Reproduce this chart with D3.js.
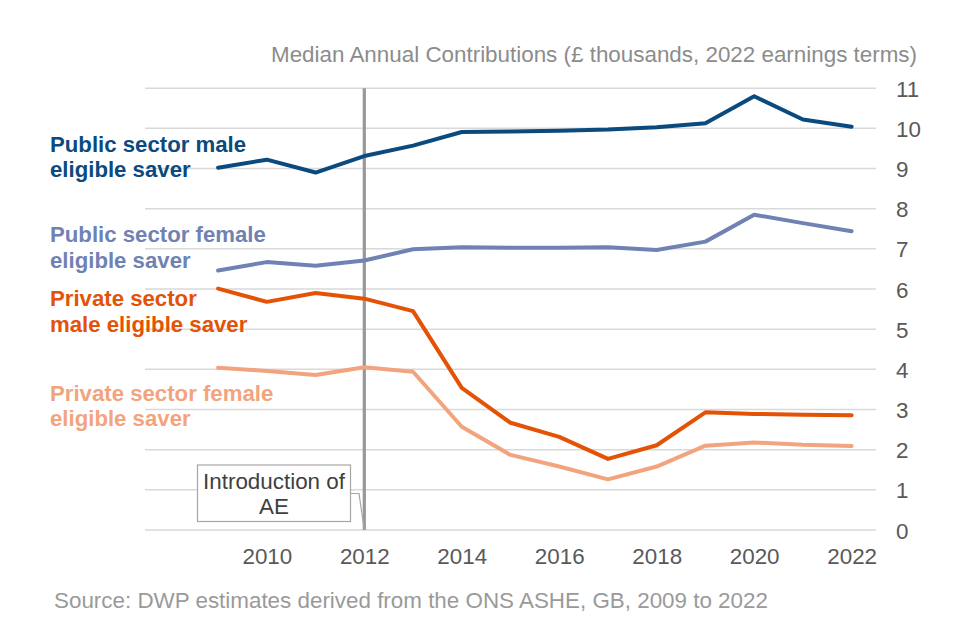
<!DOCTYPE html>
<html>
<head>
<meta charset="utf-8">
<script src="https://cdn.jsdelivr.net/npm/d3@7"></script>
<style>
  html, body { margin: 0; padding: 0; background: #fff; }
  svg { display: block; font-family: "Liberation Sans", Arial, sans-serif; }
</style>
</head>
<body>
<svg id="chart" width="960" height="640"></svg>
<script>
const years = [2009, 2010, 2011, 2012, 2013, 2014, 2015, 2016, 2017, 2018, 2019, 2020, 2021, 2022];
const publicMale    = [9.02, 9.22, 8.90, 9.31, 9.57, 9.91, 9.92, 9.94, 9.97, 10.03, 10.13, 10.80, 10.22, 10.04];
const publicFemale  = [6.46, 6.67, 6.58, 6.71, 6.99, 7.04, 7.03, 7.03, 7.04, 6.97, 7.18, 7.85, 7.64, 7.44];
const privateMale   = [6.01, 5.68, 5.90, 5.76, 5.45, 3.54, 2.67, 2.32, 1.77, 2.11, 2.93, 2.89, 2.87, 2.86];
const privateFemale = [4.04, 3.96, 3.86, 4.05, 3.94, 2.57, 1.87, 1.58, 1.26, 1.58, 2.10, 2.18, 2.12, 2.09];
const xTicks = [2010, 2012, 2014, 2016, 2018, 2020, 2022];
const yTicks = [0, 1, 2, 3, 4, 5, 6, 7, 8, 9, 10, 11];
const seriesNames = [
  ["Public sector male", "eligible saver"],
  ["Public sector female", "eligible saver"],
  ["Private sector", "male eligible saver"],
  ["Private sector female", "eligible saver"]
];
const yTitle = "Median Annual Contributions (£ thousands, 2022 earnings terms)";
const sourceText = "Source: DWP estimates derived from the ONS ASHE, GB, 2009 to 2022";
const aeYear = 2012;
const aeLabel = ["Introduction of", "AE"];

const series = [
  { name: seriesNames[0], values: publicMale,    color: "#0B4A7E", labelY: 151.5 },
  { name: seriesNames[1], values: publicFemale,  color: "#6F82B3", labelY: 242 },
  { name: seriesNames[2], values: privateMale,   color: "#E35205", labelY: 306 },
  { name: seriesNames[3], values: privateFemale, color: "#F2A47E", labelY: 400.5 }
];

const FS = 22.4;
const svg = d3.select("#chart");
const x = d3.scaleLinear().domain([2007.5, 2022.5]).range([145, 876]);
const y = d3.scaleLinear().domain([0, 11]).range([530, 88.2]);

// gridlines
svg.append("g").selectAll("line").data(yTicks).join("line")
  .attr("x1", x.range()[0]).attr("x2", x.range()[1])
  .attr("y1", d => y(d)).attr("y2", d => y(d))
  .attr("stroke", "#D9D9D9").attr("stroke-width", 1.5);

// y axis (right)
const yAxis = d3.axisRight(y).tickValues(yTicks).tickSize(0).tickPadding(0).tickFormat(d3.format("d"));
const gy = svg.append("g").attr("transform", "translate(896,0)").call(yAxis);
gy.select(".domain").remove();
gy.selectAll("text").attr("font-size", FS).attr("fill", "#595959")
  .attr("font-family", "Liberation Sans, Arial, sans-serif").attr("x", 0).attr("dy", "0.36em");

// x axis
const xAxis = d3.axisBottom(x).tickValues(xTicks).tickSize(0).tickPadding(0).tickFormat(d3.format("d"));
const gx = svg.append("g").attr("transform", "translate(0,530)").call(xAxis);
gx.select(".domain").remove();
gx.selectAll("text").attr("font-size", FS).attr("fill", "#595959")
  .attr("font-family", "Liberation Sans, Arial, sans-serif").attr("y", 34).attr("dy", 0);

// AE vertical line
svg.append("line")
  .attr("x1", x(aeYear)).attr("x2", x(aeYear))
  .attr("y1", y(11)).attr("y2", y(0))
  .attr("stroke", "#989898").attr("stroke-width", 3.2);

// lines
const line = d3.line().x((d, i) => x(years[i])).y(d => y(d));
series.forEach(s => {
  svg.append("path").datum(s.values)
    .attr("d", line)
    .attr("fill", "none")
    .attr("stroke", s.color)
    .attr("stroke-width", 4)
    .attr("stroke-linejoin", "round")
    .attr("stroke-linecap", "round");
});

// series labels
series.forEach(s => {
  const t = svg.append("text")
    .attr("x", 50).attr("y", s.labelY)
    .attr("font-size", 22.2).attr("font-weight", "bold")
    .attr("fill", s.color);
  s.name.forEach((ln, i) => {
    t.append("tspan").attr("x", 50).attr("dy", i === 0 ? 0 : 25.5).text(ln);
  });
});

// annotation callout
const bx0 = 197.5, bx1 = 350.5, by0 = 465, by1 = 521.5;
svg.append("path")
  .attr("d", `M${bx1},493.5 L359,493.5 L${x(aeYear)},${y(0)}`)
  .attr("fill", "none").attr("stroke", "#A6A6A6").attr("stroke-width", 1.2);
svg.append("rect")
  .attr("x", bx0).attr("y", by0).attr("width", bx1 - bx0).attr("height", by1 - by0)
  .attr("fill", "#fff").attr("stroke", "#A6A6A6").attr("stroke-width", 1.2);
aeLabel.forEach((ln, i) => {
  svg.append("text")
    .attr("x", (bx0 + bx1) / 2).attr("y", 489 + i * 25)
    .attr("text-anchor", "middle").attr("font-size", FS).attr("fill", "#404040")
    .text(ln);
});

// y title
svg.append("text")
  .attr("x", 917).attr("y", 62)
  .attr("text-anchor", "end").attr("font-size", FS).attr("fill", "#8C8C8C")
  .text(yTitle);

// source
svg.append("text")
  .attr("x", 54).attr("y", 608)
  .attr("font-size", FS).attr("fill", "#9A9A9A")
  .text(sourceText);
</script>
</body>
</html>
